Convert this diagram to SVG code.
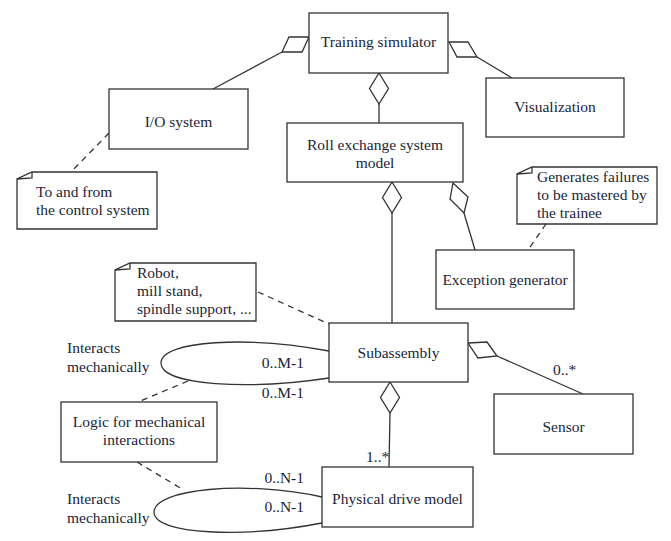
<svg xmlns="http://www.w3.org/2000/svg" width="671" height="541" viewBox="0 0 671 541">
<defs>
<style>
.box{fill:#fff;stroke:#333;stroke-width:1.3}
.ln{fill:none;stroke:#333;stroke-width:1.3}
.dash{fill:none;stroke:#333;stroke-width:1.3;stroke-dasharray:6,5}
.dia{fill:#fff;stroke:#333;stroke-width:1.3;stroke-linejoin:miter}
text{font-family:"Liberation Serif","DejaVu Serif",serif;font-size:15.5px;fill:#1a1f3a}
.c{text-anchor:middle}
.e{text-anchor:end}
</style>
<polygon id="vdia" class="dia" points="0,0 9.5,15.5 0,31 -9.5,15.5"/>
</defs>
<rect width="671" height="541" fill="#fff"/>
<g id="connectors">
<line class="ln" x1="282" y1="52" x2="213" y2="89"/>
<line class="ln" x1="477" y1="57" x2="512" y2="78"/>
<line class="ln" x1="379" y1="104" x2="379" y2="123"/>
<line class="ln" x1="392" y1="213" x2="392" y2="323"/>
<line class="ln" x1="464" y1="213" x2="475" y2="250"/>
<line class="ln" x1="497" y1="356" x2="583" y2="394"/>
<line class="ln" x1="390" y1="413" x2="389" y2="467"/>
<path class="ln" d="M329,351 C250,336 161,340 161,363 C161,386 250,390 329,378"/>
<path class="ln" d="M322,497 C245,480 154,489 154,512 C154,535 245,538 322,523"/>
<line class="dash" x1="109" y1="133" x2="71" y2="172"/>
<line class="dash" x1="546" y1="224" x2="528" y2="250"/>
<line class="dash" x1="258" y1="292" x2="329" y2="324"/>
<line class="dash" x1="188" y1="381" x2="138" y2="402"/>
<line class="dash" x1="137" y1="462" x2="182" y2="489"/>
<polygon class="dia" points="309,37 289,37 282,52 302,52"/>
<polygon class="dia" points="449,42 468,42 477,57 457,57"/>
<use href="#vdia" transform="translate(379,73)"/>
<use href="#vdia" transform="translate(392,182)"/>
<polygon class="dia" points="453,183 450,199 464,213 468,197"/>
<polygon class="dia" points="468,343 487,342 497,356 478,358"/>
<use href="#vdia" transform="translate(390,382)"/>
<text class="e" x="304" y="368">0..M-1</text>
<text class="e" x="304" y="398">0..M-1</text>
<text class="e" x="304" y="483">0..N-1</text>
<text class="e" x="304" y="512">0..N-1</text>
<text x="366" y="462">1..*</text>
<text x="553" y="375">0..*</text>
<text x="67" y="353">Interacts</text>
<text x="67" y="372">mechanically</text>
<text x="67" y="504">Interacts</text>
<text x="67" y="523">mechanically</text>
</g>
<g id="training-simulator">
<rect class="box" x="309" y="13" width="139" height="60"/>
<text class="c" x="378.5" y="47">Training simulator</text>
</g>
<g id="visualization">
<rect class="box" x="486" y="78" width="138" height="59"/>
<text class="c" x="555" y="112">Visualization</text>
</g>
<g id="io-system">
<rect class="box" x="109" y="89" width="139" height="60"/>
<text class="c" x="178.5" y="127">I/O system</text>
</g>
<g id="roll-exchange">
<rect class="box" x="287" y="123" width="176" height="59"/>
<text class="c" x="375" y="150">Roll exchange system</text>
<text class="c" x="375" y="168">model</text>
</g>
<g id="note-control">
<path class="box" d="M32,172 H157 V229 H17 V179 Z"/>
<path class="ln" d="M17,179 L32,178 L32,172"/>
<text x="36" y="197">To and from</text>
<text x="36" y="215">the control system</text>
</g>
<g id="note-failures">
<path class="box" d="M532,167 H657 V224 H517 V174 Z"/>
<path class="ln" d="M517,174 L532,173 L532,167"/>
<text x="537" y="182">Generates failures</text>
<text x="537" y="200">to be mastered by</text>
<text x="537" y="218">the trainee</text>
</g>
<g id="note-robot">
<path class="box" d="M130,263 H256 V321 H115 V270 Z"/>
<path class="ln" d="M115,270 L130,269 L130,263"/>
<text x="137" y="278">Robot,</text>
<text x="137" y="296">mill stand,</text>
<text x="137" y="314">spindle support, ...</text>
</g>
<g id="exception-generator">
<rect class="box" x="436" y="250" width="138" height="59"/>
<text class="c" x="505" y="285">Exception generator</text>
</g>
<g id="subassembly">
<rect class="box" x="329" y="323" width="139" height="59"/>
<text class="c" x="398.5" y="358">Subassembly</text>
</g>
<g id="logic">
<rect class="box" x="61" y="402" width="156" height="60"/>
<text class="c" x="139" y="427">Logic for mechanical</text>
<text class="c" x="139" y="445">interactions</text>
</g>
<g id="sensor">
<rect class="box" x="494" y="394" width="139" height="60"/>
<text class="c" x="563.5" y="432">Sensor</text>
</g>
<g id="physical-drive">
<rect class="box" x="322" y="467" width="151" height="60"/>
<text class="c" x="397.5" y="504">Physical drive model</text>
</g>
</svg>
